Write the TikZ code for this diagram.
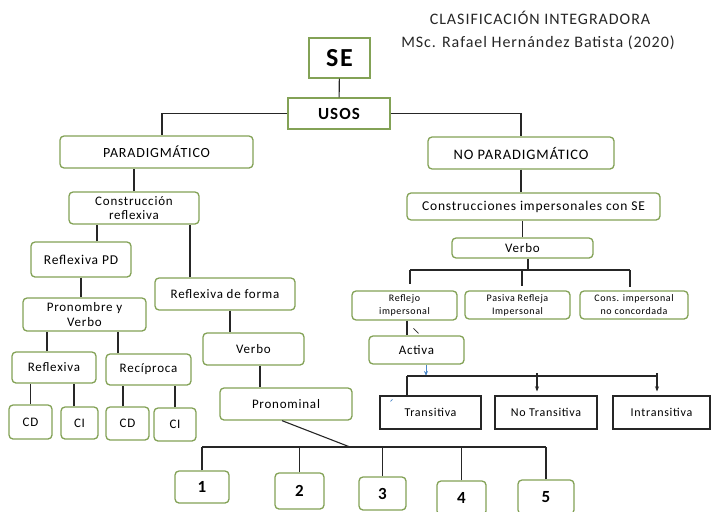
\documentclass[tikz,border=0pt]{standalone}
\usepackage{fontspec}
\setmainfont{Carlito}[LetterSpace=6]
\definecolor{grnc}{HTML}{83A256}
\definecolor{linec}{HTML}{262626}
\definecolor{bluec}{HTML}{4A86C8}
\usetikzlibrary{arrows.meta,positioning,calc}
\tikzset{
  >={Stealth[length=1.8mm,width=1.4mm]},
  gbox/.style={draw=grnc,line width=1.3pt,fill=white,rounded corners=4pt,inner sep=1pt,align=center,font=\fontsize{13}{15}\selectfont},
  sbox/.style={gbox,rounded corners=0pt},
  smbox/.style={gbox,font=\fontsize{10}{13}\selectfont},
  kbox/.style={draw=linec,line width=1.1pt,fill=white,inner sep=1pt,font=\fontsize{12}{14}\selectfont},
  nbox/.style={gbox,font=\fontsize{17}{19}\selectfont\bfseries},
  conn/.style={draw=linec,line width=1.1pt},
  tnote/.style={font=\fontsize{16}{18}\selectfont,text=linec},
}

\begin{document}
\begin{tikzpicture}[x=1pt,y=-1pt]
  \useasboundingbox (0,0) rectangle (711,511);
  % title
  \node[tnote] (tit1) at (540,18) {CLASIFICACIÓN INTEGRADORA};
  \node[tnote] (tit2) at (538,43) {MSc. Rafael Hernández Batista (2020)};
  % top
  \node[sbox,minimum width=61pt,minimum height=40pt,font=\fontsize{26}{28}\selectfont\bfseries] (se) at (339.5,58) {SE};
  \node[sbox,minimum width=102pt,minimum height=31pt,font=\fontsize{17}{19}\selectfont\bfseries] (usos) at (339,113.5) {USOS};
  \node[gbox,minimum width=193pt,minimum height=32pt,font=\fontsize{14}{16}\selectfont] (parad) at (156.5,152) {PARADIGMÁTICO};
  \node[gbox,minimum width=186pt,minimum height=32pt,font=\fontsize{14.5}{16}\selectfont] (noparad) at (521,153) {NO PARADIGMÁTICO};
  % left branch
  \node[gbox,minimum width=130pt,minimum height=32pt,font=\fontsize{13}{14.5}\selectfont] (constr) at (134,208) {Construcción\\reflexiva};
  \node[gbox,minimum width=100pt,minimum height=35pt,font=\fontsize{13.5}{15}\selectfont] (refpd) at (81,259.5) {Reflexiva PD};
  \node[gbox,minimum width=140pt,minimum height=32pt] (refforma) at (225,294) {Reflexiva de forma};
  \node[gbox,minimum width=123pt,minimum height=33pt,font=\fontsize{13}{14.5}\selectfont] (pronverbo) at (84.5,314.5) {Pronombre y\\Verbo};
  \node[gbox,minimum width=101pt,minimum height=32pt] (verbol) at (253.5,349) {Verbo};
  \node[gbox,minimum width=132pt,minimum height=32pt] (pronominal) at (286,404) {Pronominal};
  \node[gbox,minimum width=84pt,minimum height=31pt] (reflexiva) at (54,367.5) {Reflexiva};
  \node[gbox,minimum width=85pt,minimum height=31pt] (reciproca) at (148.5,369.5) {Recíproca};
  \node[gbox,minimum width=43pt,minimum height=34pt] (cda) at (30.5,422) {CD};
  \node[gbox,minimum width=37pt,minimum height=32pt] (cia) at (79.5,423) {CI};
  \node[gbox,minimum width=43pt,minimum height=33pt] (cdb) at (127.5,423.5) {CD};
  \node[gbox,minimum width=42pt,minimum height=33pt] (cib) at (175,424.5) {CI};
  \node[nbox,minimum width=54pt,minimum height=32pt] (n1) at (202,487) {1};
  \node[nbox,minimum width=49pt,minimum height=36pt] (n2) at (299.5,491) {2};
  \node[nbox,minimum width=47pt,minimum height=33pt] (n3) at (382.5,493.5) {3};
  \node[nbox,minimum width=49pt,minimum height=34pt] (n4) at (461.5,498) {4};
  \node[nbox,minimum width=56pt,minimum height=34pt] (n5) at (546,497) {5};
  % right branch
  \node[gbox,minimum width=253pt,minimum height=27pt,font=\fontsize{13.5}{16}\selectfont] (cis) at (533.5,206.5) {Construcciones impersonales con SE};
  \node[gbox,minimum width=141pt,minimum height=20pt] (verbor) at (522.5,248) {Verbo};
  \node[smbox,minimum width=105pt,minimum height=29pt] (reflejo) at (404.5,305.5) {Reflejo\\impersonal};
  \node[smbox,minimum width=105pt,minimum height=28pt] (pasiva) at (517.5,305) {Pasiva Refleja\\Impersonal};
  \node[smbox,minimum width=108pt,minimum height=28pt] (cons) at (634,305) {Cons. impersonal\\no concordada};
  \node[gbox,minimum width=95pt,minimum height=28pt] (activa) at (416.5,350) {Activa};
  \node[kbox,minimum width=101pt,minimum height=33pt] (trans) at (430.5,412.5) {Transitiva};
  \node[kbox,minimum width=102pt,minimum height=33pt] (notrans) at (546,412.5) {No Transitiva};
  \node[kbox,minimum width=97pt,minimum height=33pt] (intrans) at (661.5,412.5) {Intransitiva};
  % buses
  \coordinate (busa) at (0,270);
  \coordinate (busb) at (0,376);
  \coordinate (busc) at (0,447);
  \coordinate (pj) at (350,447);
  % connectors, left
  \draw[conn] (se) -- (usos);
  \draw[conn] (usos.west) -| ([xshift=5.5]parad.north);
  \draw[conn] (usos.east) -| (noparad.north);
  \draw[conn] (constr.north) -- (constr.north |- parad.south);
  \draw[conn] ([xshift=16]refpd.north) -- ([xshift=16]refpd.north |- constr.south);
  \draw[conn] ([xshift=-35]refforma.north) -- ([xshift=-35]refforma.north |- constr.south);
  \draw[conn] (refpd.south) -- (refpd.south |- pronverbo.north);
  \draw[conn] ([xshift=5]refforma.south) -- ([xshift=5]refforma.south |- verbol.north);
  \draw[conn] ([xshift=6.5]verbol.south) -- ([xshift=6.5]verbol.south |- pronominal.north);
  \draw[conn] ([xshift=-7]reflexiva.north) -- ([xshift=-7]reflexiva.north |- pronverbo.south);
  \draw[conn] ([xshift=-30.5]reciproca.north) -- ([xshift=-30.5]reciproca.north |- pronverbo.south);
  \draw[conn] (cda.north) -- (cda.north |- reflexiva.south);
  \draw[conn] ([xshift=-5.5]cia.north) -- ([xshift=-5.5]cia.north |- reflexiva.south);
  \draw[conn] ([xshift=-4.5]cdb.north) -- ([xshift=-4.5]cdb.north |- reciproca.south);
  \draw[conn] (cib.north) -- (cib.north |- reciproca.south);
  \draw[conn] ([xshift=-4]pronominal.south) -- (pj);
  \draw[conn] (n1.north |- busc) -- (n5.north |- busc);
  \foreach \n in {n1,n2,n3,n4,n5}
    \draw[conn] (\n.north) -- (\n.north |- busc);
  % connectors, right
  \draw[conn] (noparad.south) -- (noparad.south |- cis.north);
  \draw[conn] (verbor.north) -- (verbor.north |- cis.south);
  \draw[conn] ([xshift=5.5]verbor.south) -- ([xshift=5.5]verbor.south |- busa);
  \draw[conn] ([xshift=5.5]reflejo.north |- busa) -- ([xshift=-4]cons.north |- busa);
  \draw[conn,shorten >=6pt] ([xshift=5.5]reflejo.north |- busa) -- ([xshift=5.5]reflejo.north);
  \draw[conn,shorten >=4pt] ([xshift=4.5]pasiva.north |- busa) -- ([xshift=4.5]pasiva.north);
  \draw[conn,shorten >=3pt] ([xshift=-4]cons.north |- busa) -- ([xshift=-4]cons.north);
  \draw[conn] ([xshift=2.5]reflejo.south) -- ([xshift=2.5]reflejo.south |- activa.north);
  \draw[conn,line width=0.8pt] ([xshift=-3,yshift=7]activa.north) -- ++(5,5);
  \draw[->,draw=bluec,line width=1pt] ([xshift=9.5]activa.south) -- ([xshift=9.5]activa.south |- busb);
  \draw[conn] ([xshift=-23.5]trans.north |- busb) -- ([xshift=-4.5]intrans.north |- busb);
  \draw[conn] ([xshift=-23.5]trans.north |- busb) -- ([xshift=-23.5]trans.north);
  \draw[conn,->,shorten >=4pt] ([xshift=-9,yshift=3]notrans.north |- busb) -- ([xshift=-9]notrans.north);
  \draw[conn,->,shorten >=4pt] ([xshift=-4.5,yshift=3]intrans.north |- busb) -- ([xshift=-4.5]intrans.north);
  \draw[draw=bluec,line width=0.8pt] ([xshift=11,yshift=-6]trans.north west) -- ++(2,-2);
\end{tikzpicture}
\end{document}
